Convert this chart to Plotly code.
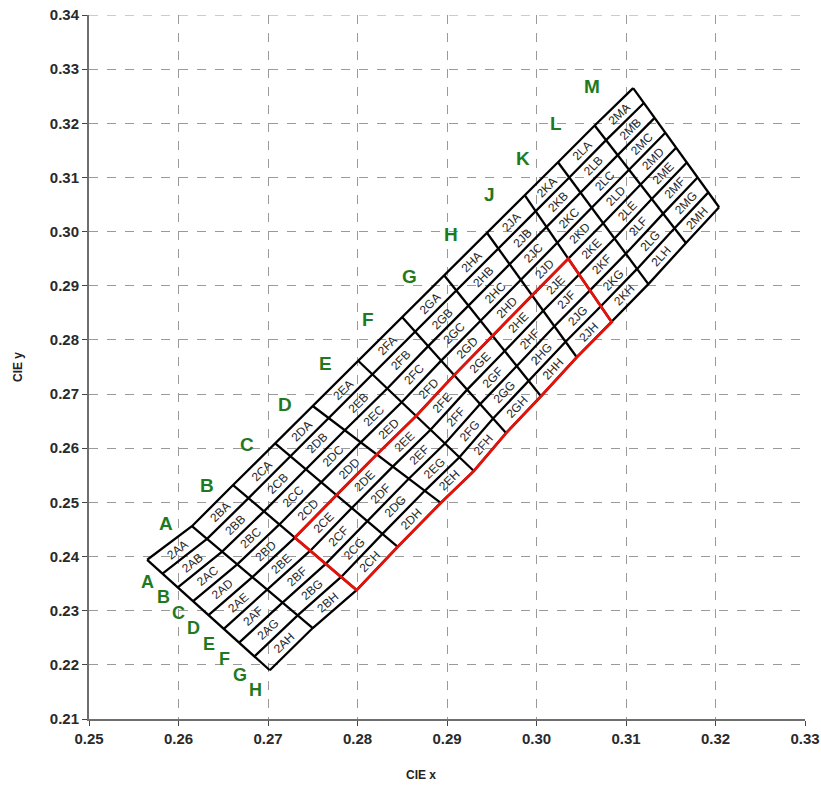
import math
import plotly.graph_objects as go

# ---- data ----
col_names = list("ABCDEFGHJKLM")
row_names = list("ABCDEFGH")

# column-boundary end points on the outer top edge (row A start) and bottom edge (row H end)
top_x = [0.2565, 0.2615, 0.2661, 0.2708, 0.2750, 0.2801, 0.2850, 0.2897, 0.2945, 0.2987, 0.3024, 0.3065, 0.3108]
top_y = [0.2394, 0.2456, 0.2532, 0.2609, 0.2678, 0.2761, 0.2842, 0.2919, 0.2997, 0.3067, 0.3128, 0.3196, 0.3265]
bot_x = [0.2702, 0.2750, 0.2799, 0.2845, 0.2893, 0.2930, 0.2966, 0.3005, 0.3045, 0.3084, 0.3125, 0.3167, 0.3204]
bot_y = [0.2190, 0.2268, 0.2338, 0.2418, 0.2499, 0.2558, 0.2628, 0.2696, 0.2768, 0.2833, 0.2903, 0.2979, 0.3045]
# position of the row boundaries along each column boundary (0 = top edge, 1 = bottom edge)
row_frac = [0.0, 0.125, 0.25, 0.375, 0.5, 0.625, 0.75, 0.875, 1.0]

# highlighted (red) block: columns C..J, rows E..H
red_cols = ("C", "J")
red_rows = ("E", "H")

x_ticks = [0.25, 0.26, 0.27, 0.28, 0.29, 0.30, 0.31, 0.32, 0.33]
y_ticks = [0.21, 0.22, 0.23, 0.24, 0.25, 0.26, 0.27, 0.28, 0.29, 0.30, 0.31, 0.32, 0.33, 0.34]
x_tick_text = ["0.25", "0.26", "0.27", "0.28", "0.29", "0.30", "0.31", "0.32", "0.33"]
y_tick_text = ["0.21", "0.22", "0.23", "0.24", "0.25", "0.26", "0.27", "0.28", "0.29",
               "0.30", "0.31", "0.32", "0.33", "0.34"]
x_range = [0.25, 0.33]
y_range = [0.21, 0.34]
x_title = "CIE x"
y_title = "CIE y"

# ---- layout geometry ----
W, H = 821, 790
ML, MR, MT, MB = 89, 16, 15, 71
PW, PH = W - ML - MR, H - MT - MB
sx = PW / (x_range[1] - x_range[0])
sy = PH / (y_range[1] - y_range[0])

ncb = len(top_x)
V = [[(top_x[i] + f * (bot_x[i] - top_x[i]), top_y[i] + f * (bot_y[i] - top_y[i]))
      for f in row_frac] for i in range(ncb)]
nrb = len(row_frac)

gx, gy = [], []
for i in range(ncb):
    gx += [V[i][0][0], V[i][-1][0], None]
    gy += [V[i][0][1], V[i][-1][1], None]
for j in range(nrb):
    gx += [V[i][j][0] for i in range(ncb)] + [None]
    gy += [V[i][j][1] for i in range(ncb)] + [None]

fig = go.Figure()
fig.add_trace(go.Scatter(x=gx, y=gy, mode="lines",
                         line=dict(color="black", width=2.3), hoverinfo="skip", showlegend=False))

# red outline
c0 = col_names.index(red_cols[0]); c1 = col_names.index(red_cols[1]) + 1
r0 = row_names.index(red_rows[0]); r1 = row_names.index(red_rows[1]) + 1
path = [V[c0][r0], V[c0][r1]] + [V[i][r1] for i in range(c0 + 1, c1 + 1)] + [V[c1][r0]] + \
       [V[i][r0] for i in range(c1 - 1, c0 - 1, -1)]
fig.add_trace(go.Scatter(x=[p[0] for p in path], y=[p[1] for p in path], mode="lines",
                         line=dict(color="#e3120b", width=2.8), hoverinfo="skip", showlegend=False))

ann = []
for c in range(len(col_names)):
    for r in range(len(row_names)):
        pts = [V[c][r], V[c + 1][r], V[c + 1][r + 1], V[c][r + 1]]
        cx = sum(p[0] for p in pts) / 4
        cy = sum(p[1] for p in pts) / 4
        dx = ((V[c + 1][r][0] - V[c][r][0]) + (V[c + 1][r + 1][0] - V[c][r + 1][0])) * sx
        dy = ((V[c + 1][r][1] - V[c][r][1]) + (V[c + 1][r + 1][1] - V[c][r + 1][1])) * sy
        ang = -math.degrees(math.atan2(dy, dx))
        ann.append(dict(x=cx, y=cy, text="2" + col_names[c] + row_names[r], showarrow=False,
                        textangle=ang, font=dict(family="Liberation Sans Narrow, Liberation Sans, Arial",
                                                 size=12, color="#262626")))

green = "#1f7a1f"
for c, name in enumerate(col_names):
    mx = (V[c][0][0] + V[c + 1][0][0]) / 2
    my = (V[c][0][1] + V[c + 1][0][1]) / 2
    ann.append(dict(x=mx, y=my, text=name, showarrow=False, xshift=-4 - 1.6 * c, yshift=20,
                    font=dict(family="Liberation Sans, Arial", size=19, color=green, weight="bold")))
for r, name in enumerate(row_names):
    mx = (V[0][r][0] + V[0][r + 1][0]) / 2
    my = (V[0][r][1] + V[0][r + 1][1]) / 2
    ann.append(dict(x=mx, y=my, text=name, showarrow=False, xshift=-7, yshift=-15 - 1.7 * r,
                    font=dict(family="Liberation Sans, Arial", size=18, color=green, weight="bold")))

ann.append(dict(xref="paper", yref="paper", x=(421 - ML) / PW, y=-(775 - (MT + PH)) / PH,
                xanchor="center", yanchor="middle", text=x_title, showarrow=False,
                font=dict(family="Liberation Sans, Arial", size=12, color="#222", weight="bold")))
ann.append(dict(xref="paper", yref="paper", x=(18 - ML) / PW, y=0.5, textangle=-90,
                xanchor="center", yanchor="middle", text=y_title, showarrow=False,
                font=dict(family="Liberation Sans, Arial", size=12, color="#222", weight="bold")))

grid_color = "#9a9a9a"
axis_common = dict(showgrid=True, gridcolor=grid_color, griddash="dash", gridwidth=1,
                   showline=True, linecolor="#6e6e6e", linewidth=2, ticks="outside",
                   ticklen=5, tickcolor="#444444", zeroline=False, automargin=False,
                   ticklabeloverflow="allow",
                   tickfont=dict(family="Liberation Sans, Arial", size=15, color="#2a2a2a", weight="bold"))

# top gridline at the upper end of the y range
fig.add_shape(type="line", xref="paper", yref="y", x0=0, x1=1, y0=y_range[1], y1=y_range[1],
              line=dict(color=grid_color, width=1, dash="dash"), layer="below")

fig.update_layout(
    width=W, height=H, margin=dict(l=ML, r=MR, t=MT, b=MB),
    plot_bgcolor="white", paper_bgcolor="white", annotations=ann,
    xaxis=dict(range=x_range, tickmode="array", tickvals=x_ticks, ticktext=x_tick_text, **axis_common),
    yaxis=dict(range=y_range, tickmode="array", tickvals=y_ticks, ticktext=y_tick_text, **axis_common),
)
fig.write_html("out.html", config={"displayModeBar": False},
               post_script="document.body.style.margin='0';document.body.style.overflow='hidden';")
